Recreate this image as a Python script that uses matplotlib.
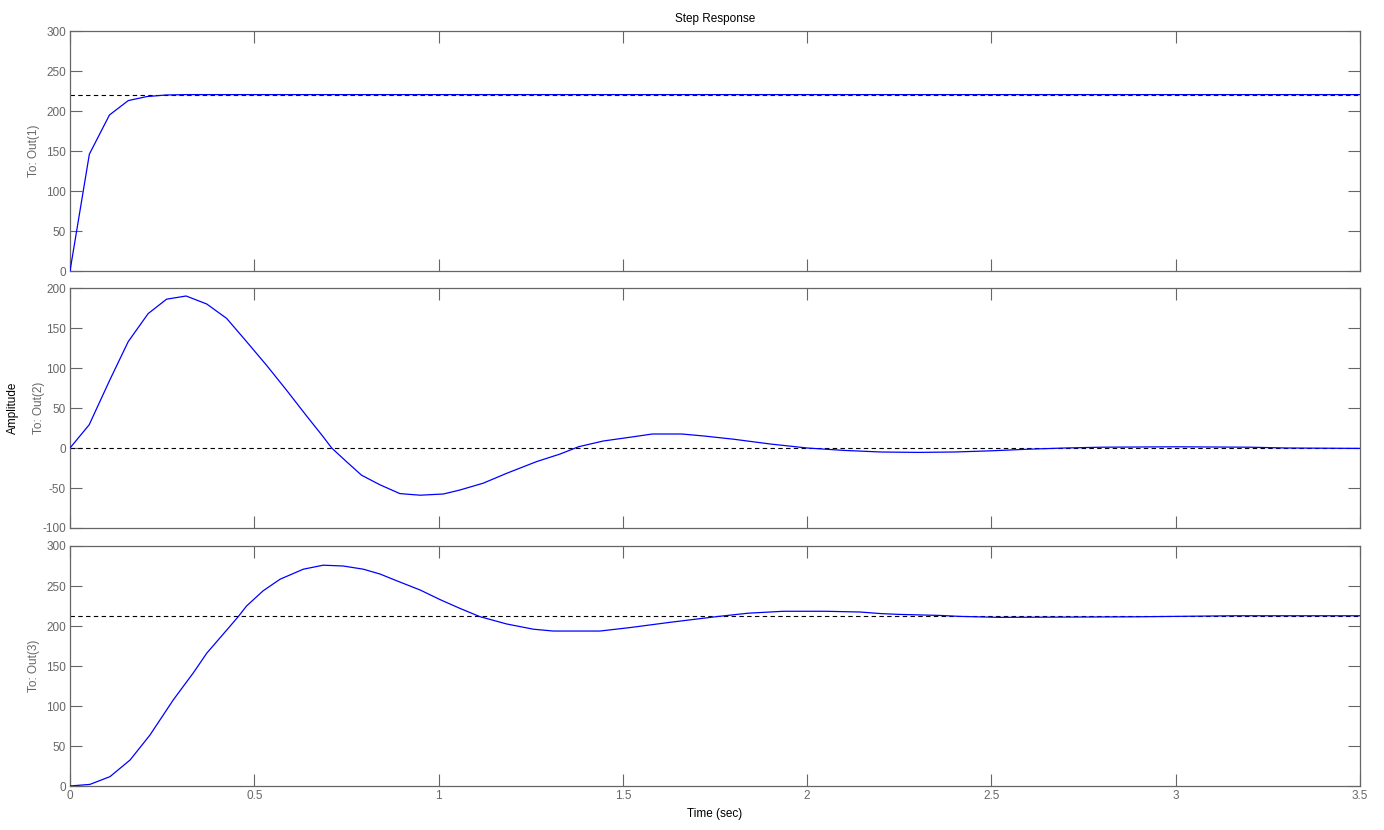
import matplotlib
matplotlib.use("Agg")
import matplotlib.pyplot as plt
import numpy as np

plt.rcParams['font.family'] = ['Liberation Sans', 'DejaVu Sans']
plt.rcParams['axes.unicode_minus'] = False

# ---- data ----
t1 = [0, 0.0525, 0.107, 0.158, 0.208, 0.26, 0.315, 3.5]
y1 = [0, 146, 195, 213, 218, 220, 220.5, 220.5]
ss1 = 220.5

t2 = [0, 0.052, 0.108, 0.158, 0.212, 0.262, 0.315, 0.371, 0.425, 0.479,
      0.534, 0.588, 0.642, 0.687, 0.71, 0.75, 0.791, 0.841, 0.895, 0.95,
      1.013, 1.058, 1.121, 1.185, 1.266, 1.33, 1.38, 1.447, 1.528, 1.58,
      1.66, 1.72, 1.8, 1.9, 2.0, 2.1, 2.2, 2.3, 2.4, 2.5, 2.6, 2.7, 2.8,
      3.0, 3.2, 3.3, 3.5]
y2 = [0, 29, 85, 133, 168, 186, 190, 180, 162, 133,
      103, 72, 40, 14, 0, -17, -34, -46, -57, -59,
      -57.5, -52.5, -44, -31.6, -17, -7.5, 1.6, 8.75, 14, 17.5,
      17.5, 15, 11, 5, 0, -3, -5, -5.5, -5, -3.5, -1.5, 0, 1,
      1.5, 1, 0, -0.5]
ss2 = 0

t3 = [0, 0.054, 0.1085, 0.163, 0.217, 0.28, 0.335, 0.371, 0.416, 0.457,
      0.479, 0.524, 0.57, 0.633, 0.687, 0.741, 0.796, 0.841, 0.886, 0.95,
      1.004, 1.058, 1.112, 1.185, 1.257, 1.311, 1.438, 1.519, 1.628, 1.754,
      1.84, 1.935, 2.05, 2.143, 2.2, 2.25, 2.36, 2.415, 2.52, 2.89, 3.16, 3.5]
y3 = [0, 2, 11.7, 32.5, 63.75, 107.5, 141.7, 166, 190, 212,
      225, 244, 258.5, 271, 276, 275, 271, 265, 256.6, 245,
      233, 222, 211.7, 202.5, 196, 193.7, 193.7, 198, 204.6, 211.7,
      216, 218.4, 218.4, 217.5, 215.5, 214.5, 213.2, 212, 210.8, 211.5, 212.8, 212.8]
ss3 = 212

ylabels = ['To: Out(1)', 'To: Out(2)', 'To: Out(3)']
ylims = [(0, 300), (-100, 200), (0, 300)]
yticks = [np.arange(0, 301, 50), np.arange(-100, 201, 50), np.arange(0, 301, 50)]
xticks = [0, 0.5, 1, 1.5, 2, 2.5, 3, 3.5]
xticklabels = ['0', '0.5', '1', '1.5', '2', '2.5', '3', '3.5']

series = [(t1, y1, ss1), (t2, y2, ss2), (t3, y3, ss3)]

W, H = 1384, 830
fig = plt.figure(figsize=(W / 100, H / 100), dpi=100)
gray = '#666666'

boxes = [(31, 271), (288, 528), (546, 786)]
for i, ((top, bot), (t, y, ss)) in enumerate(zip(boxes, series)):
    ax = fig.add_axes([70 / W, 1 - bot / H, (1360 - 70) / W, (bot - top) / H])
    ax.plot([0, 3.5], [ss, ss], color='black', lw=0.8, dashes=(4, 3), zorder=2)
    ax.plot(t, y, color='#0000ff', lw=0.9, zorder=3)
    ax.set_xlim(0, 3.5)
    ax.set_ylim(*ylims[i])
    ax.set_yticks(yticks[i])
    ax.set_yticklabels([str(v) for v in yticks[i]])
    ax.set_xticks(xticks)
    if i == 2:
        ax.set_xticklabels(xticklabels)
    else:
        ax.set_xticklabels([])
    ax.tick_params(direction='in', length=8.6, width=0.8, colors=gray,
                   labelsize=8.5, top=True, right=True, pad=3)
    for lab in ax.get_xticklabels() + ax.get_yticklabels():
        lab.set_color(gray)
    for s in ax.spines.values():
        s.set_color(gray)
        s.set_linewidth(0.9)
    ax.set_ylabel(ylabels[i], color=gray, fontsize=8.5, labelpad=10)
    if i == 1:
        ax.yaxis.set_label_coords(-25 / 1290, 0.5)
    else:
        ax.yaxis.set_label_coords(-30 / 1290, 0.5)

fig.text(13 / W, 1 - 408 / H, 'Amplitude', rotation=90, ha='center', va='center',
         fontsize=8.5, color='black')
fig.text(715 / W, 1 - 19 / H, 'Step Response', ha='center', va='center',
         fontsize=8.5, color='black')
fig.text(715 / W, 1 - 814 / H, 'Time (sec)', ha='center', va='center',
         fontsize=8.5, color='black')

fig.savefig('out.png', dpi=100)
